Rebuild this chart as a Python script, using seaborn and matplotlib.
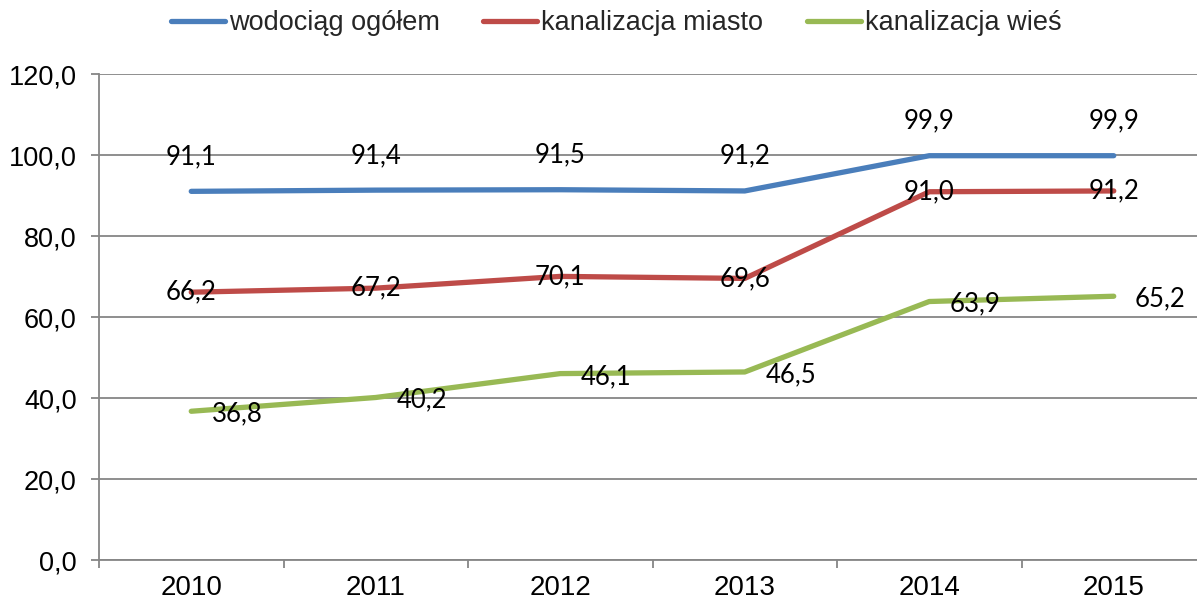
import matplotlib
matplotlib.use("Agg")
import matplotlib.pyplot as plt
import seaborn as sns
import pandas as pd
from matplotlib.ticker import MultipleLocator, FuncFormatter

years = ["2010", "2011", "2012", "2013", "2014", "2015"]
series_names = ["wodociąg ogółem", "kanalizacja miasto", "kanalizacja wieś"]
wodociag = [91.1, 91.4, 91.5, 91.2, 99.9, 99.9]
kanal_miasto = [66.2, 67.2, 70.1, 69.6, 91.0, 91.2]
kanal_wies = [36.8, 40.2, 46.1, 46.5, 63.9, 65.2]
colors = ["#4A7EBB", "#BE4B48", "#98B954"]

values = [wodociag, kanal_miasto, kanal_wies]
rows = []
for name, vals in zip(series_names, values):
    for i, (yr, v) in enumerate(zip(years, vals)):
        rows.append({"pos": i, "rok": yr, "seria": name, "wartosc": v})
df = pd.DataFrame(rows)

sns.set_theme(style="white")
plt.rcParams["font.family"] = ["Liberation Sans", "DejaVu Sans"]

fig = plt.figure(figsize=(11.97, 6.02), dpi=100)
ax = fig.add_axes([99 / 1197, 1 - 560.3 / 602, 1107 / 1197, (560.3 - 74.3) / 602])

sns.lineplot(data=df, x="pos", y="wartosc", hue="seria", hue_order=series_names,
             palette=colors, linewidth=3.8, ax=ax, legend=True,
             solid_capstyle="round", zorder=3)

ax.set_xlim(-0.5, 5.5)
ax.set_ylim(0, 120)
ax.yaxis.set_major_locator(MultipleLocator(20))
ax.yaxis.set_major_formatter(FuncFormatter(lambda v, _: f"{v:.1f}".replace(".", ",")))
ax.set_xticks(range(len(years)))
ax.set_xticklabels(years)
ax.set_xticks([i - 0.5 for i in range(len(years) + 1)], minor=True)
ax.tick_params(axis="x", which="major", length=0, pad=10.5, labelsize=20, colors="black")
ax.tick_params(axis="x", which="minor", length=6, width=1.3, color="#868686", direction="out", bottom=True)
ax.tick_params(axis="y", which="major", length=6, width=1.3, color="#868686", direction="out",
               left=True, pad=10, labelsize=19.5, labelcolor="black")
ax.set_xlabel("")
ax.set_ylabel("")

ax.grid(axis="y", color="#868686", linewidth=1.3, zorder=0)
ax.grid(axis="x", visible=False)
for side in ["top", "right"]:
    ax.spines[side].set_visible(False)
for side in ["left", "bottom"]:
    ax.spines[side].set_color("#868686")
    ax.spines[side].set_linewidth(1.3)

label_font = dict(family=["Lato", "DejaVu Sans"], fontsize=18.5, color="black")

def fmt(v):
    return f"{v:.1f}".replace(".", ",")

for i, v in enumerate(wodociag):
    ax.annotate(fmt(v), (i, v), xytext=(0, 25), textcoords="offset points",
                ha="center", va="center", zorder=5, **label_font)
for i, v in enumerate(kanal_miasto):
    ax.annotate(fmt(v), (i, v), xytext=(0, 0), textcoords="offset points",
                ha="center", va="center", zorder=5, **label_font)
for i, v in enumerate(kanal_wies):
    ax.annotate(fmt(v), (i, v), xytext=(15, -2), textcoords="offset points",
                ha="left", va="center", zorder=5, **label_font)

handles, labels = ax.get_legend_handles_labels()
ax.get_legend().remove()
for h in handles:
    h.set_linewidth(3.8)
    h.set_solid_capstyle("round")
fig.legend(handles, labels, loc="center", bbox_to_anchor=(616 / 1197, 1 - 23 / 602),
           ncol=3, frameon=False, fontsize=19.5, handlelength=2.0, handletextpad=0.15,
           columnspacing=1.6)

fig.savefig("out.png", dpi=100)
